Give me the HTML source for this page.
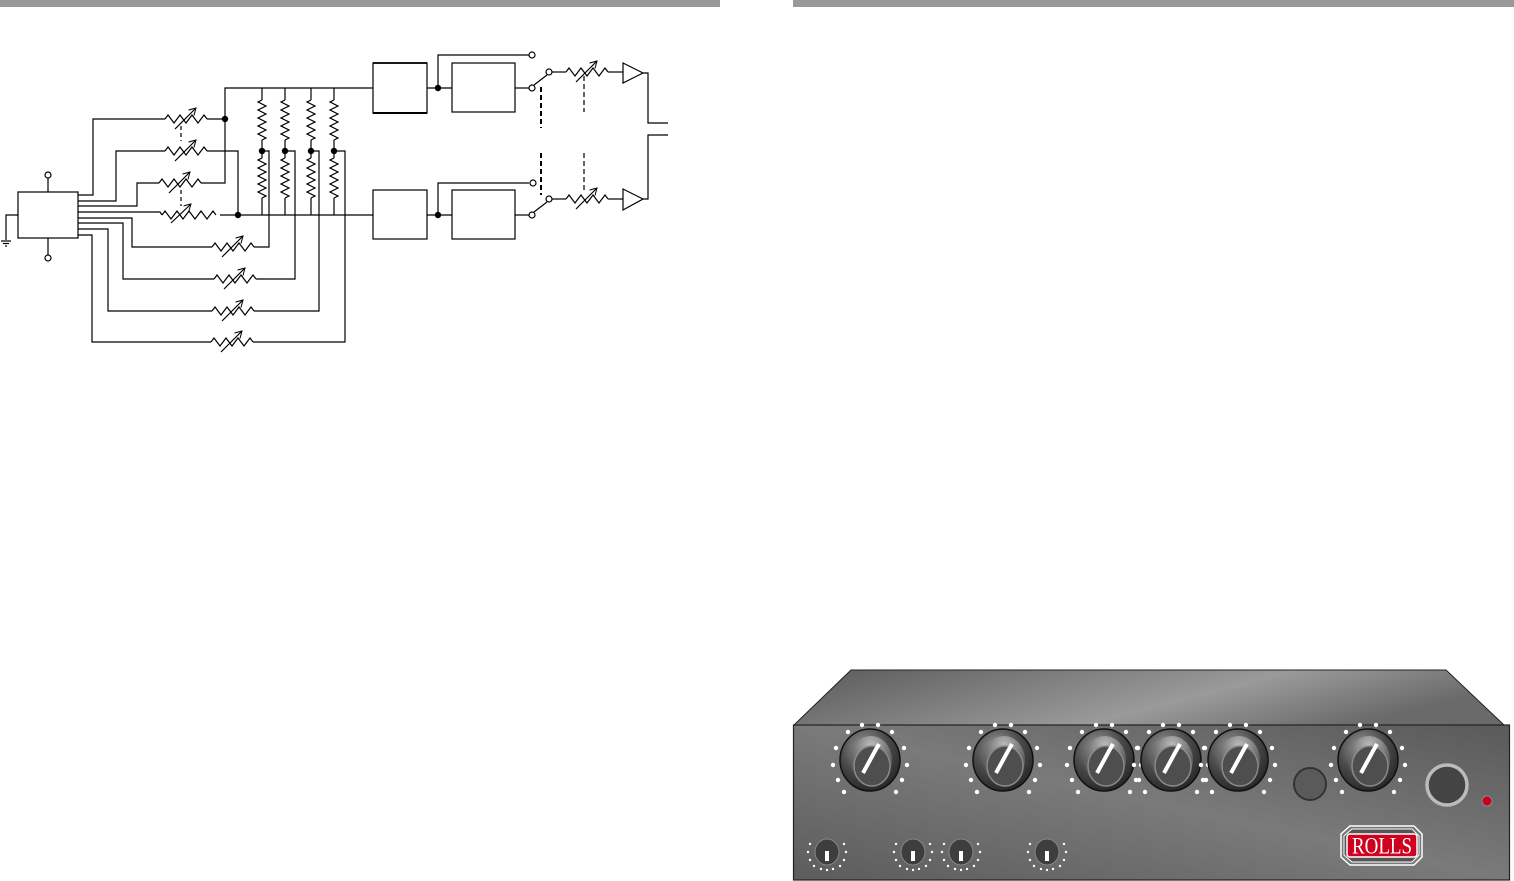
<!DOCTYPE html>
<html><head><meta charset="utf-8"><style>
html,body{margin:0;padding:0;background:#fff;}
svg{display:block;}
</style></head><body>
<svg width="1514" height="881" viewBox="0 0 1514 881" xmlns="http://www.w3.org/2000/svg">
<defs>
  <marker id="ah" markerWidth="8" markerHeight="8" refX="7" refY="4" orient="auto" markerUnits="userSpaceOnUse">
    <path d="M0,0 L7,4 L0,8" fill="none" stroke="#000" stroke-width="1"/>
  </marker>
  <g id="vr">
    <path d="M-21,0 l3,-4 l6,8 l6,-8 l6,8 l6,-8 l6,8 l6,-8 l3,4" fill="none" stroke="#000" stroke-width="1.2"/>
    <line x1="-11" y1="10" x2="10" y2="-11" stroke="#000" stroke-width="1.2" marker-end="url(#ah)"/>
  </g>
  <g id="vz">
    <path d="M0,-20 l-4,2 l8,4 l-8,4 l8,4 l-8,4 l8,4 l-8,4 l8,4 l-8,4 l8,4 l-4,2" fill="none" stroke="#000" stroke-width="1.2"/>
  </g>
  <radialGradient id="kg" cx="0.4" cy="0.3" r="0.8">
    <stop offset="0" stop-color="#9a9a9a"/><stop offset="0.5" stop-color="#4a4a4a"/><stop offset="1" stop-color="#1e1e1e"/>
  </radialGradient>
  <radialGradient id="kg2" cx="0.5" cy="0.2" r="0.8">
    <stop offset="0" stop-color="#bdbdbd"/><stop offset="0.6" stop-color="#6a6a6a"/><stop offset="1" stop-color="#444"/>
  </radialGradient>
  <g id="knob">
    <g fill="#fff">
      <circle cx="-22" cy="-28" r="2.2"/><circle cx="22" cy="-28" r="2.2"/>
      <circle cx="-34" cy="-12" r="2.2"/><circle cx="34" cy="-12" r="2.2"/>
      <circle cx="-37" cy="5" r="2.2"/><circle cx="37" cy="5" r="2.2"/>
      <circle cx="-32" cy="20" r="2.2"/><circle cx="32" cy="20" r="2.2"/>
      <circle cx="-26" cy="32" r="2.2"/><circle cx="26" cy="32" r="2.2"/>
      <circle cx="-8" cy="-35" r="2.2"/><circle cx="8" cy="-35" r="2.2"/>
    </g>
    <ellipse cx="0" cy="0" rx="30" ry="31" fill="url(#kg)" stroke="#111" stroke-width="1.5"/>
    <ellipse cx="1" cy="0" rx="21" ry="24" fill="url(#kg2)"/>
    <ellipse cx="2" cy="6" rx="18" ry="20" fill="#4e4e4e" stroke="#8a8a8a" stroke-width="1.5"/>
    <path d="M-7,13 L5,-9 L9,-16" fill="none" stroke="#fff" stroke-width="4"/>
  </g>
  <g id="sknob">
    <g fill="#fff">
      <circle cx="-17" cy="-8" r="1.2"/><circle cx="17" cy="-8" r="1.2"/>
      <circle cx="-19" cy="0" r="1.2"/><circle cx="19" cy="0" r="1.2"/>
      <circle cx="-17" cy="8" r="1.2"/><circle cx="17" cy="8" r="1.2"/>
      <circle cx="-13" cy="14" r="1.2"/><circle cx="13" cy="14" r="1.2"/>
      <circle cx="-6" cy="17" r="1.2"/><circle cx="6" cy="17" r="1.2"/>
      <circle cx="0" cy="18" r="1.2"/>
    </g>
    <ellipse cx="0" cy="0" rx="12" ry="13" fill="#3e3e3e" stroke="#888" stroke-width="1"/>
    <rect x="-2" y="-1" width="4" height="10" fill="#fff"/>
  </g>
  <linearGradient id="topg" x1="0" y1="0" x2="1" y2="0.3">
    <stop offset="0" stop-color="#5a5a5a"/><stop offset="0.65" stop-color="#9a9a9a"/><stop offset="1" stop-color="#6a6a6a"/>
  </linearGradient>
  <linearGradient id="frontg" x1="0" y1="1" x2="1" y2="0">
    <stop offset="0" stop-color="#5c5c5c"/><stop offset="0.5" stop-color="#7a7a7a"/><stop offset="1" stop-color="#5a5a5a"/>
  </linearGradient>
</defs>

<rect x="0" y="0" width="720" height="7" fill="#999"/>
<rect x="793" y="0" width="721" height="7" fill="#999"/>

<g stroke="#000" stroke-width="1.2" fill="none">
  <rect x="18" y="192" width="60" height="46"/>
  <line x1="48" y1="192" x2="48" y2="178"/>
  <line x1="48" y1="238" x2="48" y2="255"/>
  <polyline points="18,215 6,215 6,240"/>
  <line x1="1" y1="241" x2="11" y2="241"/><line x1="3" y1="243.5" x2="9" y2="243.5"/><line x1="5" y1="246" x2="7" y2="246"/>
  <polyline points="78,195 93,195 93,119 165,119"/><line x1="207" y1="119" x2="225" y2="119"/>
  <polyline points="78,201 116,201 116,151 165,151"/><polyline points="207,151 238,151 238,215"/>
  <polyline points="78,206 137,206 137,183 159,183"/><polyline points="201,183 225,183 225,88 373,88"/>
  <polyline points="78,212 160,212 162,215"/><line x1="220" y1="215" x2="373" y2="215"/>
  <polyline points="78,218 132,218 132,247 212,247"/><polyline points="254,247 269,247 269,151 262,151"/>
  <polyline points="78,223 123,223 123,279 214,279"/><polyline points="256,279 295,279 295,151 285,151"/>
  <polyline points="78,229 108,229 108,311 212,311"/><polyline points="254,311 319,311 319,151 311,151"/>
  <polyline points="78,235 92,235 92,342 211,342"/><polyline points="253,342 345,342 345,151 334,151"/>
  <line x1="262" y1="88" x2="262" y2="100"/><line x1="262" y1="140" x2="262" y2="158"/><line x1="262" y1="198" x2="262" y2="215"/>
  <line x1="285" y1="88" x2="285" y2="100"/><line x1="285" y1="140" x2="285" y2="158"/><line x1="285" y1="198" x2="285" y2="215"/>
  <line x1="311" y1="88" x2="311" y2="100"/><line x1="311" y1="140" x2="311" y2="158"/><line x1="311" y1="198" x2="311" y2="215"/>
  <line x1="334" y1="88" x2="334" y2="100"/><line x1="334" y1="140" x2="334" y2="158"/><line x1="334" y1="198" x2="334" y2="215"/>
  <line x1="181" y1="126" x2="181" y2="141" stroke-dasharray="4,3"/>
  <line x1="181" y1="190" x2="181" y2="206" stroke-dasharray="4,3"/>
  <rect x="373" y="63" width="54" height="50" stroke-width="1.2"/>
  <line x1="373" y1="113" x2="427" y2="113" stroke-width="2"/>
  <line x1="373" y1="63" x2="427" y2="63" stroke-width="1.8"/>
  <line x1="427" y1="88" x2="452" y2="88"/>
  <polyline points="438,88 438,55 529,55"/>
  <rect x="452" y="63" width="63" height="49"/>
  <line x1="515" y1="88" x2="529" y2="88"/>
  <line x1="534" y1="85" x2="547" y2="75"/>
  <line x1="552" y1="72" x2="566" y2="72"/><line x1="608" y1="72" x2="623" y2="72"/>
  <polygon points="623,63 643,73 623,83"/>
  <polyline points="643,73 648,73 648,123 668,123"/>
  <rect x="373" y="190" width="54" height="49"/>
  <line x1="427" y1="215" x2="452" y2="215"/>
  <polyline points="438,215 438,183 529,183"/>
  <rect x="452" y="190" width="63" height="49"/>
  <line x1="515" y1="215" x2="529" y2="215"/>
  <line x1="534" y1="212" x2="547" y2="202"/>
  <line x1="552" y1="199" x2="566" y2="199"/><line x1="608" y1="199" x2="623" y2="199"/>
  <polygon points="623,189 643,199 623,210"/>
  <polyline points="643,199 648,199 648,135 668,135"/>
  <line x1="541" y1="87" x2="541" y2="128" stroke-width="2" stroke-dasharray="5,3"/>
  <line x1="541" y1="153" x2="541" y2="195" stroke-width="2" stroke-dasharray="5,3"/>
  <line x1="584" y1="76" x2="584" y2="112" stroke-dasharray="5,3"/>
  <line x1="584" y1="153" x2="584" y2="190" stroke-dasharray="5,3"/>
</g>
<g fill="#fff" stroke="#000" stroke-width="1.2">
  <circle cx="48" cy="175" r="3"/><circle cx="48" cy="258" r="3"/>
  <circle cx="532" cy="55" r="3"/><circle cx="532" cy="88" r="3"/><circle cx="549" cy="72" r="3"/>
  <circle cx="533" cy="183" r="3"/><circle cx="532" cy="215" r="3"/><circle cx="549" cy="199" r="3"/>
</g>
<g fill="#000">
  <circle cx="225" cy="119" r="3.2"/><circle cx="238" cy="215" r="3.2"/>
  <circle cx="262" cy="151" r="3.2"/><circle cx="285" cy="151" r="3.2"/><circle cx="311" cy="151" r="3.2"/><circle cx="334" cy="151" r="3.2"/>
  <circle cx="438" cy="88" r="3.2"/><circle cx="438" cy="215" r="3.2"/>
</g>
<use href="#vr" x="186" y="119"/><use href="#vr" x="186" y="151"/><use href="#vr" x="180" y="183"/>
<g transform="translate(191,215)">
  <path d="M-29,0 l3,-4 l6,8 l6,-8 l6,8 l6,-8 l6,8 l6,-8 l6,8 l6,-8 l3,4" fill="none" stroke="#000" stroke-width="1.2"/>
  <line x1="-20" y1="8" x2="0" y2="-11" stroke="#000" stroke-width="1.2" marker-end="url(#ah)"/>
</g>
<use href="#vr" x="233" y="247"/><use href="#vr" x="235" y="279"/><use href="#vr" x="233" y="311"/><use href="#vr" x="232" y="342"/>
<use href="#vr" x="587" y="72"/><use href="#vr" x="587" y="199"/>
<use href="#vz" x="262" y="120"/><use href="#vz" x="262" y="178"/>
<use href="#vz" x="285" y="120"/><use href="#vz" x="285" y="178"/>
<use href="#vz" x="311" y="120"/><use href="#vz" x="311" y="178"/>
<use href="#vz" x="334" y="120"/><use href="#vz" x="334" y="178"/>

<polygon points="794,725 851,670 1446,670 1504,725" fill="url(#topg)" stroke="#222" stroke-width="1"/>
<rect x="793.5" y="725" width="716" height="155" fill="url(#frontg)" stroke="#222" stroke-width="1.2"/>
<use href="#knob" x="870" y="760"/>
<use href="#knob" x="1003" y="760"/>
<use href="#knob" x="1104" y="760"/>
<use href="#knob" x="1171" y="760"/>
<use href="#knob" x="1238" y="760"/>
<use href="#knob" x="1368" y="760"/>
<circle cx="1310" cy="784" r="16" fill="#5a5a5a" stroke="#333" stroke-width="2"/>
<circle cx="1447" cy="785" r="20" fill="#444" stroke="#bbb" stroke-width="3.5"/>
<circle cx="1487" cy="801" r="5" fill="#c8001e" stroke="#888" stroke-width="1"/>
<use href="#sknob" x="827" y="852"/>
<use href="#sknob" x="913" y="852"/>
<use href="#sknob" x="961" y="852"/>
<use href="#sknob" x="1047" y="852"/>
<g>
  <polygon points="1350,826 1414,826 1422,834 1422,857 1414,865 1350,865 1341,857 1341,834" fill="none" stroke="#fff" stroke-width="1.5"/>
  <polygon points="1352,829 1412,829 1419,836 1419,855 1412,862 1352,862 1344,855 1344,836" fill="#555" stroke="#fff" stroke-width="1"/>
  <rect x="1347" y="834" width="70" height="23" rx="3" fill="#d0001f" stroke="#fff" stroke-width="1.5"/>
  <text x="1382" y="853.5" text-anchor="middle" font-family="Liberation Serif, serif" font-size="23" fill="#fff" textLength="60" lengthAdjust="spacingAndGlyphs">ROLLS</text>
</g>
</svg>
</body></html>
